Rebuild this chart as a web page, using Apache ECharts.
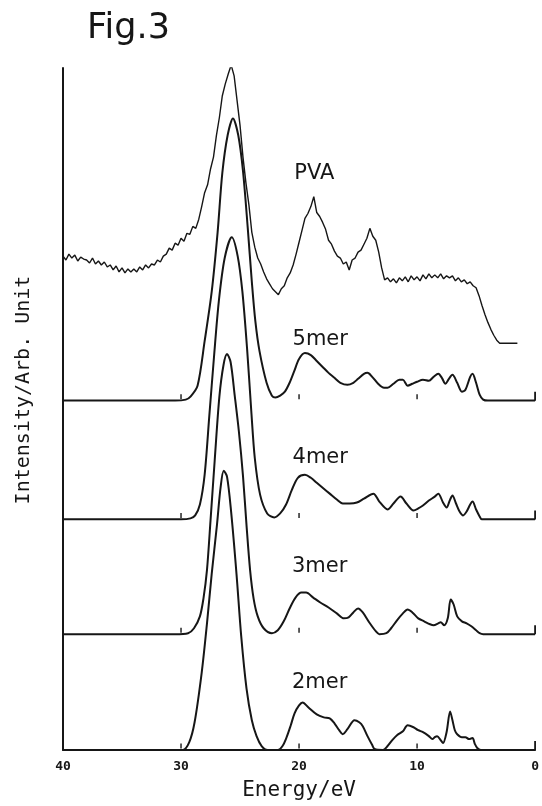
<!DOCTYPE html>
<html>
<head>
<meta charset="utf-8">
<script src="https://cdn.jsdelivr.net/npm/echarts@6/dist/echarts.min.js"></script>
<style>
  html, body { margin: 0; padding: 0; background: #fff; }
  #main { width: 542px; height: 806px; }
</style>
</head>
<body>
<div id="main"></div>
<script>
// energy axis (eV), drawn reversed: 40 on the left, 0 on the right
var energyMin = 0;
var energyMax = 40;
var energyStep = 10;

// curve names, top to bottom, and the vertical offset of each baseline (arb. units)
var curveNames = ['PVA', '5mer', '4mer', '3mer', '2mer'];
var curveOffsets = [411, 353, 233, 117, 0];

// small marks on each baseline
var baseTicks = [30, 20, 10];

// PVA: measured spectrum, one value every 0.25 eV from 40 eV downwards
var pvaStart = 40;
var pvaStep = 0.25;
var pva = [
    88, 84, 90, 86, 89, 83, 87, 85,
    84, 81, 86, 80, 83, 79, 82, 77,
    79, 74, 78, 72, 76, 71, 75, 72,
    75, 72, 77, 74, 79, 76, 80, 79,
    84, 82, 88, 90, 96, 94, 101, 99,
    106, 103, 111, 110, 118, 116, 125, 138,
    152, 160, 176, 188, 210, 228, 250, 262,
    272, 281, 270, 245, 220, 188, 162, 140,
    112, 97, 86, 80, 72, 65, 60, 55,
    52, 49, 55, 58, 66, 71, 79, 90,
    102, 114, 126, 131, 138, 148, 132, 128,
    122, 115, 104, 100, 93, 88, 86, 80,
    82, 74, 84, 86, 92, 94, 100, 106,
    116, 108, 104, 92, 76, 64, 66, 62,
    65, 61, 66, 63, 67, 62, 68, 64,
    67, 63, 69, 65, 70, 66, 69, 66,
    70, 65, 68, 66, 68, 63, 66, 62,
    64, 60, 62, 58, 56, 48, 38, 29,
    21, 14, 8, 3, 0, 0, 0, 0,
    0, 0, 0
];

// calculated spectra, [energy, intensity]
var mer5 = [
    [40, 0], [30.5, 0], [29.6, 1], [29.2, 4], [28.6, 15], [28.0, 60], [27.4, 110],
    [26.9, 170], [26.5, 230], [26.05, 268], [25.6, 285], [25.15, 268], [24.75, 232],
    [24.35, 175], [24.0, 120], [23.7, 80], [23.35, 50], [22.75, 18], [22.3, 5],
    [22.0, 3], [21.6, 5], [21.2, 9], [20.8, 18], [20.4, 30], [20.0, 42], [19.5, 48],
    [19.0, 46], [18.5, 40], [18.0, 34], [17.5, 28], [17.0, 23], [16.5, 18], [15.9, 16],
    [15.4, 18], [15.0, 22], [14.5, 27], [14.2, 28], [13.8, 24], [13.3, 17], [12.8, 13],
    [12.5, 13], [12.0, 17], [11.5, 21], [11.2, 21], [10.8, 15], [10.4, 17], [10.0, 19],
    [9.5, 21], [9.0, 20], [8.6, 24], [8.2, 27], [7.9, 23], [7.6, 17], [7.3, 22],
    [7.0, 26], [6.6, 18], [6.2, 9], [5.9, 11], [5.5, 24], [5.3, 27], [5.0, 18],
    [4.7, 6], [4.4, 1], [4.0, 0], [0, 0]
];
var mer4 = [
    [40, 0], [30, 0], [29.2, 1], [28.8, 4], [28.4, 15], [28.0, 45], [27.6, 105],
    [27.2, 165], [26.8, 220], [26.3, 264], [25.7, 285], [25.2, 266], [24.8, 230],
    [24.4, 172], [24.05, 110], [23.75, 62], [23.3, 25], [22.7, 6],
    [22.1, 2], [21.6, 6], [21.1, 15], [20.6, 30], [20.1, 42], [19.5, 45], [19.0, 42],
    [18.5, 37], [17.9, 31], [17.4, 26], [16.8, 20], [16.3, 16], [15.7, 16], [15.1, 17],
    [14.5, 21], [13.7, 26], [13.2, 18], [12.5, 10], [12.0, 16], [11.4, 23], [10.9, 16],
    [10.3, 9], [9.9, 11], [9.5, 14], [9.0, 19], [8.5, 23], [8.2, 26], [7.8, 17],
    [7.5, 12], [7.2, 20], [7.0, 24], [6.7, 16], [6.4, 8], [6.1, 4], [5.8, 8],
    [5.5, 15], [5.3, 18], [5.0, 10], [4.7, 3], [4.5, 0], [0, 0]
];
var mer3 = [
    [40, 0], [30.5, 0], [29.4, 1], [28.9, 6], [28.4, 18], [28.1, 36], [27.8, 65],
    [27.5, 115], [27.15, 175], [26.75, 240], [26.4, 272], [26.1, 283], [25.8, 275],
    [25.45, 241], [25.1, 205], [24.75, 160], [24.45, 110], [24.15, 65], [23.85, 36], [23.5, 18],
    [23.0, 6], [22.3, 1], [21.8, 4], [21.3, 13], [20.8, 26], [20.3, 37], [19.8, 42],
    [19.4, 42], [18.8, 37], [18.2, 32], [17.5, 27], [16.8, 21], [16.2, 16], [15.8, 17],
    [15.4, 22], [15.0, 26], [14.6, 22], [14.0, 11], [13.5, 3], [13.2, 0], [12.6, 1],
    [12.2, 6], [11.7, 14], [11.2, 21], [10.8, 25], [10.4, 22], [9.9, 16], [9.4, 13],
    [8.9, 10], [8.6, 9], [8.2, 11], [8.0, 12], [7.7, 9], [7.4, 16], [7.15, 35],
    [6.9, 30], [6.6, 18], [6.2, 13], [5.8, 11], [5.4, 8], [5.0, 4], [4.7, 1],
    [4.4, 0], [0, 0]
];
var mer2 = [
    [40, 0], [29.85, 0], [29.3, 8], [28.85, 28], [28.25, 78], [27.8, 128], [27.4, 178],
    [26.95, 228], [26.65, 265], [26.38, 282], [26.1, 276], [25.75, 240], [25.3, 178],
    [24.9, 115], [24.45, 62], [24.0, 30], [23.6, 14], [23.17, 4], [22.66, 0], [21.8, 0], [21.4, 4],
    [21.05, 13], [20.7, 25], [20.38, 37], [20.0, 45], [19.7, 48], [19.2, 43], [18.5, 36],
    [17.9, 33], [17.4, 32], [17.0, 27], [16.6, 20], [16.3, 16], [15.9, 21], [15.3, 30],
    [14.9, 28], [14.6, 24], [14.2, 14], [13.8, 5], [13.6, 1], [12.9, 0], [12.5, 4],
    [12.1, 10], [11.7, 15], [11.2, 19], [10.8, 25], [10.3, 23], [9.9, 20], [9.5, 18],
    [9.0, 14], [8.7, 11], [8.5, 13], [8.3, 14], [8.0, 10], [7.8, 7], [7.5, 18],
    [7.2, 39], [7.0, 30], [6.8, 20], [6.6, 16], [6.2, 13], [5.9, 13], [5.6, 11],
    [5.3, 12], [5.1, 6], [4.9, 2], [4.6, 0], [0, 0]
];

var ink = '#161616';
var curves = [null, mer5, mer4, mer3, mer2];

// where the curve names sit: energy of the left edge, height above baseline
var nameE = [20.4, 20.55, 20.55, 20.6, 20.6];
var nameH = [171, 62, 62, 68, 68];

var myChart = echarts.init(document.getElementById('main'));

var series = [];

// PVA line
var pvaData = pva.map(function (v, i) {
    return [pvaStart - i * pvaStep, v + curveOffsets[0]];
});
series.push({
    name: 'PVA',
    type: 'line',
    data: pvaData,
    showSymbol: false,
    smooth: false,
    lineStyle: { color: ink, width: 1.4 },
    z: 3
});

for (var k = 1; k < curves.length; k++) {
    var off = curveOffsets[k];
    series.push({
        name: curveNames[k],
        type: 'line',
        data: curves[k].map(function (p) { return [p[0], p[1] + off]; }),
        showSymbol: false,
        smooth: 0.3,
        lineStyle: { color: ink, width: 2 },
        z: 3
    });
    // baseline marks
    series.push({
        type: 'scatter',
        data: baseTicks.map(function (e) { return [e, off + 4]; }),
        symbol: 'rect',
        symbolSize: [1.4, 5],
        itemStyle: { color: ink, opacity: 1 },
        silent: true,
        z: 4
    });
    series.push({
        type: 'scatter',
        data: [[0, off + 4.5]],
        symbol: 'rect',
        symbolSize: [1.8, 9],
        itemStyle: { color: ink, opacity: 1 },
        clip: false,
        silent: true,
        z: 4
    });
}

// curve names
series.push({
    type: 'scatter',
    data: curveNames.map(function (n, i) {
        return { value: [nameE[i], curveOffsets[i] + nameH[i]], name: n };
    }),
    symbolSize: 0,
    silent: true,
    itemStyle: { opacity: 1 },
    label: {
        show: true,
        position: 'right',
        distance: 0,
        formatter: '{b}',
        color: ink,
        fontFamily: 'DejaVu Sans',
        fontSize: 21
    },
    z: 5
});

var option = {
    backgroundColor: '#fff',
    animation: false,
    title: {
        text: 'Fig.3',
        left: 82,
        top: 6,
        textStyle: {
            color: ink,
            fontFamily: 'DejaVu Sans',
            fontSize: 35,
            fontWeight: 'normal'
        }
    },
    grid: { left: 63, right: 6, top: 68, bottom: 49 },
    xAxis: {
        type: 'value',
        min: energyMin,
        max: energyMax,
        interval: energyStep,
        inverse: true,
        name: 'Energy/eV',
        nameLocation: 'middle',
        nameGap: 30,
        nameTextStyle: {
            color: ink,
            fontFamily: 'DejaVu Sans Mono',
            fontSize: 21
        },
        axisLine: { show: true, onZero: false, lineStyle: { color: ink, width: 2 } },
        axisTick: { show: false },
        splitLine: { show: false },
        axisLabel: {
            margin: 10,
            color: ink,
            fontFamily: 'DejaVu Sans Mono',
            fontWeight: 'bold',
            fontSize: 13
        }
    },
    yAxis: {
        type: 'value',
        position: 'left',
        min: 0,
        max: 689,
        axisLine: { show: true, onZero: false, lineStyle: { color: ink, width: 2 } },
        axisTick: { show: false },
        axisLabel: { show: false },
        splitLine: { show: false }
    },
    graphic: [{
        type: 'text',
        x: 24,
        y: 390,
        rotation: Math.PI / 2,
        style: {
            text: 'Intensity/Arb. Unit',
            fill: ink,
            font: '20px "DejaVu Sans Mono"',
            align: 'center',
            verticalAlign: 'middle'
        }
    }],
    series: series
};

myChart.setOption(option);
</script>
</body>
</html>
